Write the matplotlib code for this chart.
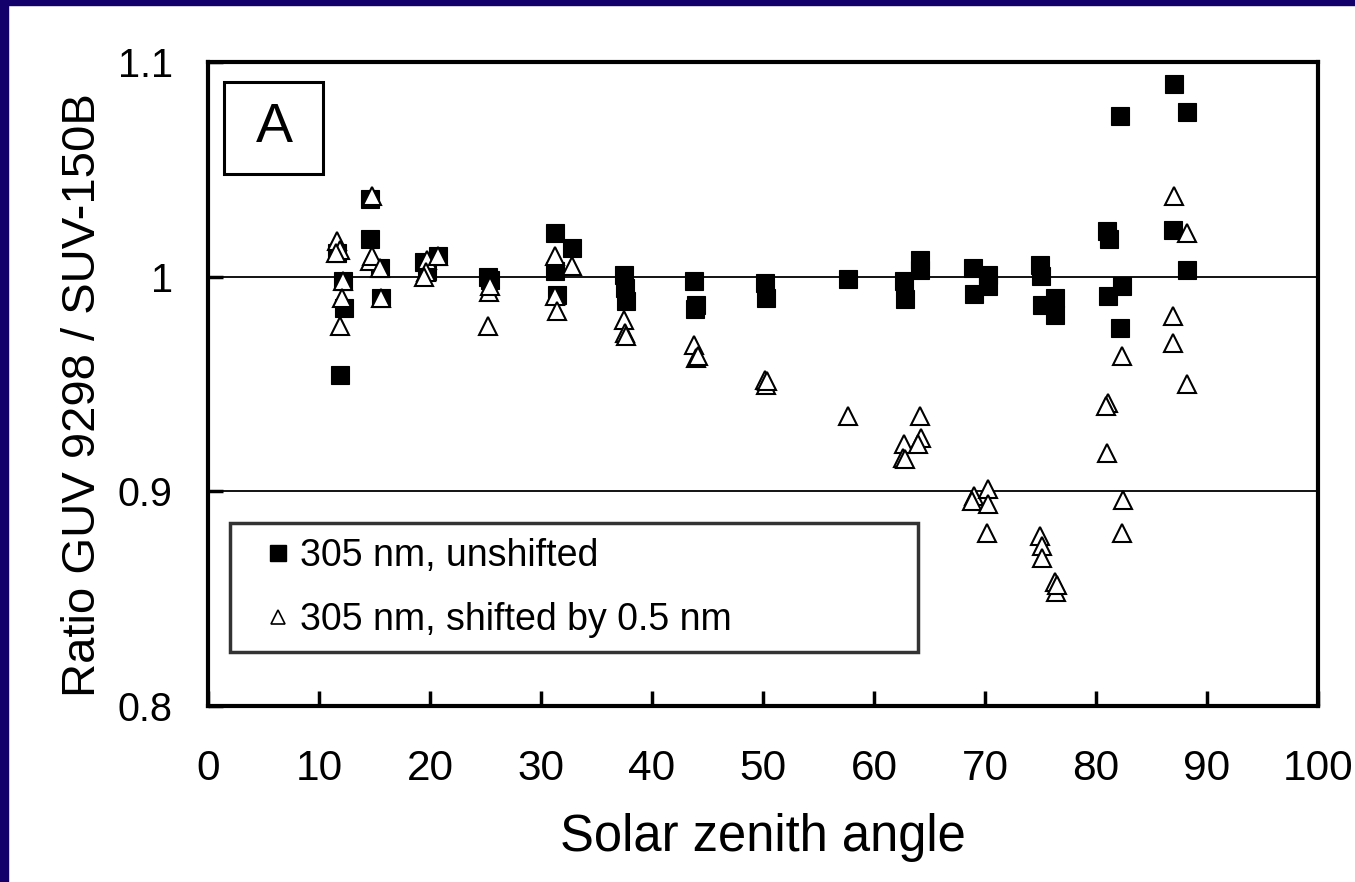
import numpy as np
import matplotlib
matplotlib.use("Agg")
import matplotlib.pyplot as plt
from matplotlib.patches import Rectangle
from matplotlib.lines import Line2D

plt.rcParams['font.family'] = ['Liberation Sans', 'DejaVu Sans']

# 305 nm, unshifted (solar zenith angle, ratio)
sza_unshifted = [11.6, 12.2, 12.25, 11.9,
                 14.6, 14.6, 15.5, 15.6,
                 19.5, 20.7, 19.7,
                 25.2, 25.4,
                 31.3, 32.8, 31.3, 31.4,
                 37.5, 37.6, 37.7,
                 43.8, 44.0, 43.9,
                 50.2, 50.3,
                 57.7,
                 62.7, 62.8, 64.1, 64.1,
                 68.9, 69.0, 70.3, 70.3,
                 74.95, 75.0, 75.1, 76.3, 76.3,
                 81.0, 81.2, 82.2, 82.3, 81.05, 82.2,
                 87.05, 88.2, 86.9, 88.2]
ratio_unshifted = [1.011, 0.998, 0.9854, 0.954,
                   1.036, 1.0176, 1.004, 0.990,
                   1.007, 1.0098, 1.0025,
                   1.000, 0.9986,
                   1.0203, 1.0134, 1.0025, 0.9916,
                   1.001, 0.9947, 0.9885,
                   0.998, 0.987, 0.985,
                   0.997, 0.990,
                   0.999,
                   0.998, 0.9898, 1.0076, 1.003,
                   1.004, 0.992, 1.001, 0.9955,
                   1.0056, 1.0005, 0.987, 0.990, 0.9823,
                   1.0214, 1.0177, 1.0747, 0.9955, 0.9908, 0.976,
                   1.0897, 1.0767, 1.0219, 1.003]

# 305 nm, shifted by 0.5 nm
sza_shifted = [11.6, 11.9, 11.5, 12.2, 12.1, 11.9,
               14.75, 14.6, 14.8, 15.5, 15.6,
               19.7, 20.7, 19.6, 19.5,
               25.3, 25.4, 25.2,
               31.3, 32.8, 31.3, 31.4,
               37.5, 37.6, 37.7,
               43.8, 44.0, 44.1,
               50.2, 50.3, 50.4,
               57.7,
               62.7, 62.6, 62.8, 64.1, 64.2, 64.0,
               69.0, 68.8, 70.3, 70.3, 70.2,
               74.95, 75.1, 75.1, 76.3, 76.4, 76.5,
               81.1, 80.9, 81.0, 82.3, 82.4, 82.3,
               87.05, 86.9, 86.9, 88.2, 88.2]
ratio_shifted = [1.0164, 1.0126, 1.011, 0.998, 0.990, 0.977,
                 1.0374, 1.0071, 1.0095, 1.004, 0.990,
                 1.008, 1.0095, 1.002, 1.000,
                 0.993, 0.9955, 0.977,
                 1.0095, 1.0048, 0.9908, 0.9838,
                 0.980, 0.9738, 0.9722,
                 0.968, 0.962, 0.963,
                 0.952, 0.9497, 0.9515,
                 0.935,
                 0.922, 0.9156, 0.915, 0.935, 0.925, 0.922,
                 0.8977, 0.8954, 0.9011, 0.894, 0.8806,
                 0.879, 0.8744, 0.869, 0.858, 0.853, 0.8565,
                 0.941, 0.9396, 0.918, 0.963, 0.896, 0.8806,
                 1.0374, 0.9818, 0.969, 1.0203, 0.950]

x_ticks = [0, 10, 20, 30, 40, 50, 60, 70, 80, 90, 100]
y_ticks = [0.8, 0.9, 1.0, 1.1]
y_tick_labels = ['0.8', '0.9', '1', '1.1']

fig = plt.figure(figsize=(13.55, 8.82), dpi=100)
ax = fig.add_axes([0.1535, 0.1995, 0.8192, 0.7302])

# navy frame on left and top edges
fig.patches.append(Rectangle((0, 0), 0.006, 1, transform=fig.transFigure,
                             color='#13006a', zorder=10))
fig.patches.append(Rectangle((0, 0.994), 1, 0.006, transform=fig.transFigure,
                             color='#13006a', zorder=10))

# reference lines
for yv in [0.9, 1.0]:
    ax.axhline(yv, color='black', lw=1.3, zorder=1)

ax.plot(sza_unshifted, ratio_unshifted, ls='none', marker='s', ms=12.5,
        mfc='black', mec='black', mew=0.8, zorder=3)
ax.plot(sza_shifted, ratio_shifted, ls='none', marker='^', ms=13.5,
        mfc='white', mec='black', mew=1.5, zorder=4)

ax.set_xlim(0, 100)
ax.set_ylim(0.8, 1.1)
ax.set_xticks(x_ticks)
ax.set_yticks(y_ticks)
ax.set_yticklabels(y_tick_labels)
ax.tick_params(axis='both', direction='in', length=11, width=2.5, labelsize=30.5)
ax.tick_params(axis='x', pad=31)
ax.tick_params(axis='y', pad=25.5, labelsize=28.5)
for s in ax.spines.values():
    s.set_linewidth(3)

ax.set_xlabel('Solar zenith angle', fontsize=36.5, labelpad=17)
ax.set_ylabel('Ratio GUV 9298 / SUV-150B', fontsize=34, labelpad=9)
ax.yaxis.label.set_y(0.483)

# panel label
ax.add_patch(Rectangle((0.0144, 0.826), 0.0892, 0.143, transform=ax.transAxes,
                       fill=False, ec='black', lw=2.2, zorder=5))
ax.text(0.0595, 0.8975, 'A', transform=ax.transAxes, fontsize=40,
        ha='center', va='center', zorder=6)

handles = [Line2D([], [], ls='none', marker='s', ms=11, mfc='black', mec='black'),
           Line2D([], [], ls='none', marker='^', ms=9.5, mfc='white', mec='black', mew=1.2)]
leg = ax.legend(handles, ['305 nm, unshifted', '305 nm, shifted by 0.5 nm'],
                loc='lower left', bbox_to_anchor=(0.0198, 0.0839, 0.62, 0.19),
                mode='expand', fontsize=27, frameon=True, fancybox=False,
                borderpad=0.38, labelspacing=0.75, handlelength=1.8,
                handletextpad=-0.3, borderaxespad=0)
leg.get_frame().set_edgecolor('black')
leg.get_frame().set_linewidth(2.5)

fig.savefig('out.png', dpi=100, facecolor='white')
